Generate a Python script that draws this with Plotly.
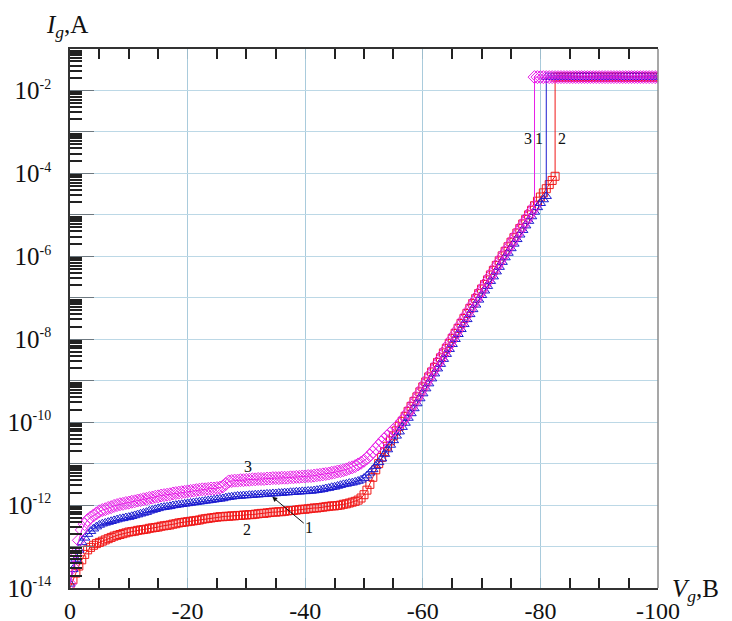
import plotly.graph_objects as go

# ---------------- data ----------------
# gate voltage sweep (V), 0.5 V steps
V_SWEEP = [0, -0.5, -1, -1.5, -2, -2.5, -3, -3.5, -4, -4.5, -5, -5.5, -6, -6.5, -7, -7.5, -8, -8.5, -9, -9.5,
           -10, -10.5, -11, -11.5, -12, -12.5, -13, -13.5, -14, -14.5, -15, -15.5, -16, -16.5, -17, -17.5, -18, -18.5, -19, -19.5,
           -20, -20.5, -21, -21.5, -22, -22.5, -23, -23.5, -24, -24.5, -25, -25.5, -26, -26.5, -27, -27.5, -28, -28.5, -29, -29.5,
           -30, -30.5, -31, -31.5, -32, -32.5, -33, -33.5, -34, -34.5, -35, -35.5, -36, -36.5, -37, -37.5, -38, -38.5, -39, -39.5,
           -40, -40.5, -41, -41.5, -42, -42.5, -43, -43.5, -44, -44.5, -45, -45.5, -46, -46.5, -47, -47.5, -48, -48.5, -49, -49.5,
           -50, -50.5, -51, -51.5, -52, -52.5, -53, -53.5, -54, -54.5, -55, -55.5, -56, -56.5, -57, -57.5, -58, -58.5, -59, -59.5,
           -60, -60.5, -61, -61.5, -62, -62.5, -63, -63.5, -64, -64.5, -65, -65.5, -66, -66.5, -67, -67.5, -68, -68.5, -69, -69.5,
           -70, -70.5, -71, -71.5, -72, -72.5, -73, -73.5, -74, -74.5, -75, -75.5, -76, -76.5, -77, -77.5, -78, -78.5, -79, -79.5,
           -80, -80.5, -81, -81.5, -82, -82.5]

# log10 of gate current (A) -- curve 1 (blue), 0 .. -81 V
LOG_I1 = [-13.9, -13.55, -13.3, -13.08, -12.9, -12.79, -12.7, -12.63, -12.57, -12.52,
          -12.48, -12.45, -12.43, -12.41, -12.39, -12.37, -12.35, -12.33, -12.32, -12.3,
          -12.29, -12.27, -12.25, -12.23, -12.21, -12.19, -12.17, -12.14, -12.12, -12.1,
          -12.08, -12.06, -12.05, -12.04, -12.03, -12.01, -12.0, -11.99, -11.98, -11.97,
          -11.96, -11.95, -11.94, -11.93, -11.92, -11.91, -11.9, -11.89, -11.88, -11.87,
          -11.86, -11.85, -11.84, -11.82, -11.81, -11.8, -11.79, -11.78, -11.78, -11.77,
          -11.77, -11.76, -11.76, -11.75, -11.75, -11.74, -11.74, -11.73, -11.73, -11.72,
          -11.72, -11.71, -11.71, -11.7, -11.7, -11.69, -11.69, -11.68, -11.68, -11.67,
          -11.67, -11.66, -11.66, -11.65, -11.64, -11.63, -11.62, -11.6, -11.59, -11.57,
          -11.56, -11.54, -11.52, -11.5, -11.49, -11.47, -11.46, -11.44, -11.42, -11.39,
          -11.35, -11.29, -11.22, -11.14, -11.06, -10.97, -10.88, -10.77, -10.66, -10.55,
          -10.44, -10.33, -10.23, -10.12, -10.02, -9.9, -9.79, -9.67, -9.55, -9.43,
          -9.31, -9.19, -9.07, -8.95, -8.83, -8.71, -8.6, -8.48, -8.36, -8.24,
          -8.12, -8.0, -7.88, -7.76, -7.64, -7.52, -7.4, -7.28, -7.17, -7.05,
          -6.94, -6.83, -6.72, -6.6, -6.49, -6.37, -6.26, -6.14, -6.03, -5.92,
          -5.81, -5.7, -5.59, -5.48, -5.37, -5.26, -5.15, -5.04, -4.93, -4.82,
          -4.72, -4.63, -4.55]

# curve 2 (red), 0 .. -82.5 V
LOG_I2 = [-14.0, -13.8, -13.64, -13.47, -13.32, -13.19, -13.08, -13.02, -12.97, -12.93,
          -12.9, -12.87, -12.84, -12.81, -12.78, -12.75, -12.73, -12.71, -12.69, -12.67,
          -12.65, -12.64, -12.63, -12.61, -12.6, -12.59, -12.58, -12.56, -12.55, -12.54,
          -12.53, -12.51, -12.5, -12.49, -12.48, -12.46, -12.45, -12.43, -12.42, -12.41,
          -12.4, -12.39, -12.38, -12.37, -12.36, -12.34, -12.33, -12.32, -12.31, -12.3,
          -12.29, -12.28, -12.28, -12.27, -12.27, -12.26, -12.26, -12.25, -12.25, -12.24,
          -12.24, -12.23, -12.23, -12.22, -12.21, -12.2, -12.2, -12.19, -12.18, -12.17,
          -12.17, -12.16, -12.16, -12.15, -12.14, -12.13, -12.13, -12.12, -12.11, -12.1,
          -12.1, -12.09, -12.08, -12.07, -12.07, -12.06, -12.05, -12.04, -12.03, -12.02,
          -12.02, -12.01, -12.0, -11.98, -11.97, -11.95, -11.93, -11.91, -11.88, -11.83,
          -11.75, -11.64, -11.5, -11.33, -11.15, -11.0, -10.85, -10.71, -10.58, -10.45,
          -10.33, -10.21, -10.1, -9.98, -9.86, -9.74, -9.62, -9.5, -9.39, -9.27,
          -9.15, -9.03, -8.91, -8.79, -8.68, -8.56, -8.45, -8.33, -8.22, -8.1,
          -7.98, -7.86, -7.74, -7.62, -7.5, -7.38, -7.26, -7.14, -7.02, -6.9,
          -6.79, -6.68, -6.57, -6.45, -6.34, -6.22, -6.11, -5.99, -5.88, -5.77,
          -5.66, -5.55, -5.44, -5.33, -5.22, -5.11, -5.0, -4.89, -4.78, -4.67,
          -4.57, -4.47, -4.37, -4.27, -4.17, -4.07]

# curve 3 (magenta), 0 .. -79 V
LOG_I3 = [-13.9, -13.5, -13.15, -12.85, -12.6, -12.46, -12.36, -12.3, -12.25, -12.2,
          -12.15, -12.12, -12.1, -12.07, -12.05, -12.02, -12.0, -11.98, -11.97, -11.95,
          -11.94, -11.92, -11.91, -11.89, -11.88, -11.86, -11.85, -11.83, -11.82, -11.8,
          -11.79, -11.77, -11.76, -11.75, -11.74, -11.72, -11.71, -11.7, -11.69, -11.68,
          -11.67, -11.66, -11.65, -11.64, -11.63, -11.62, -11.62, -11.61, -11.6, -11.6,
          -11.59, -11.58, -11.55, -11.49, -11.43, -11.42, -11.41, -11.41, -11.4, -11.4,
          -11.39, -11.39, -11.38, -11.38, -11.37, -11.37, -11.37, -11.36, -11.36, -11.35,
          -11.35, -11.35, -11.34, -11.34, -11.34, -11.33, -11.33, -11.32, -11.32, -11.31,
          -11.31, -11.3, -11.3, -11.29, -11.28, -11.27, -11.26, -11.25, -11.24, -11.22,
          -11.21, -11.19, -11.18, -11.16, -11.14, -11.11, -11.09, -11.06, -11.02, -10.98,
          -10.93, -10.87, -10.8, -10.72, -10.64, -10.56, -10.48, -10.4, -10.33, -10.26,
          -10.19, -10.12, -10.05, -9.97, -9.88, -9.77, -9.66, -9.54, -9.42, -9.3,
          -9.18, -9.06, -8.94, -8.82, -8.71, -8.59, -8.48, -8.36, -8.24, -8.12,
          -8.0, -7.88, -7.76, -7.64, -7.52, -7.4, -7.28, -7.16, -7.05, -6.93,
          -6.82, -6.71, -6.6, -6.48, -6.37, -6.25, -6.14, -6.02, -5.91, -5.8,
          -5.69, -5.58, -5.47, -5.36, -5.25, -5.14, -5.03, -4.91, -4.8]

# current-compliance plateau after breakdown (V, 0.5 V steps)
V_COMP = [-79, -79.5, -80, -80.5, -81, -81.5, -82, -82.5, -83, -83.5, -84, -84.5, -85, -85.5,
          -86, -86.5, -87, -87.5, -88, -88.5, -89, -89.5, -90, -90.5, -91, -91.5, -92, -92.5,
          -93, -93.5, -94, -94.5, -95, -95.5, -96, -96.5, -97, -97.5, -98, -98.5, -99, -99.5, -100]
I_COMPLIANCE = 0.021  # A

X_TICKS = [0, -20, -40, -60, -80, -100]
X_TICK_TEXT = ["0", "-20", "-40", "-60", "-80", "-100"]
X_SMALL_TICKS = [-5, -10, -15, -25, -30, -35, -45, -50, -55, -65, -70, -75, -85, -90, -95]
Y_DECADES = [-14, -13, -12, -11, -10, -9, -8, -7, -6, -5, -4, -3, -2, -1]
Y_LABELLED = [-14, -12, -10, -8, -6, -4, -2]

# ---------------- figure ----------------
SERIF = "Liberation Serif, Times New Roman, serif"


def build(log_vals, color, symbol, size, name):
    n = len(log_vals)
    v = V_SWEEP[:n]
    end_v = v[-1]
    vc = V_COMP[V_COMP.index(end_v):]
    x = v + vc
    y = [10 ** p for p in log_vals] + [I_COMPLIANCE] * len(vc)
    return go.Scatter(
        x=x, y=y, mode="lines+markers", name=name,
        line=dict(color=color, width=1),
        marker=dict(symbol=symbol, size=size, color=color, line=dict(color=color, width=1)),
        showlegend=False,
    )


fig = go.Figure()
fig.add_trace(build(LOG_I2, "#f01818", "square-open", 8, "2"))
fig.add_trace(build(LOG_I1, "#1c1cd0", "triangle-up-open", 9, "1"))
fig.add_trace(build(LOG_I3, "#e81ee8", "diamond-open", 10, "3"))

minor_y = [d * 10.0 ** e for e in Y_DECADES[:-1] for d in range(2, 10)]


def ylab(e):
    return "10<sup><span style='font-size:14px'>%d</span></sup>" % e


# the page body has an 8 px margin, so the figure is shifted; compensate in size/margins
fig.update_layout(
    width=724, height=613,
    margin=dict(l=62, r=74, t=41, b=33),
    paper_bgcolor="white", plot_bgcolor="white",
    font=dict(family=SERIF, color="#111"),
    xaxis=dict(
        range=[0, -100], tickmode="array", tickvals=X_TICKS, ticktext=X_TICK_TEXT,
        ticks="inside", ticklen=10, tickwidth=1, tickcolor="#9cbccc",
        showline=True, linecolor="#333", linewidth=1.5, mirror="ticks",
        showgrid=True, gridcolor="#a9cbdc", gridwidth=1, zeroline=False,
        automargin=False, ticklabelstandoff=0,
        tickfont=dict(family=SERIF, size=24, color="#111"),
        minor=dict(tickmode="array", tickvals=X_SMALL_TICKS, ticks="inside", ticklen=10,
                   tickwidth=2, tickcolor="#222", showgrid=False),
    ),
    yaxis=dict(
        type="log", range=[-14, -1], tickmode="array",
        tickvals=[10.0 ** e for e in Y_DECADES],
        ticktext=[ylab(e) if e in Y_LABELLED else "" for e in Y_DECADES],
        ticks="inside", ticklen=24, tickwidth=1, tickcolor="#6c7880",
        showline=True, linecolor="#333", linewidth=1.5, mirror=False,
        showgrid=True, gridcolor="#bcd8e6", gridwidth=1, zeroline=False,
        automargin=False, ticklabelstandoff=12,
        tickfont=dict(family=SERIF, size=25, color="#111"),
        minor=dict(tickmode="array", tickvals=minor_y, ticks="inside", ticklen=12,
                   tickwidth=2, tickcolor="#222", showgrid=False),
    ),
)

# right frame line (grey, no ticks)
fig.add_shape(type="line", xref="paper", yref="paper", x0=1, x1=1, y0=0, y1=1,
              line=dict(color="#8a8a8a", width=1.5))

# axis titles
fig.add_annotation(xref="paper", yref="paper", x=-0.005, y=1.042, xanchor="center", yanchor="middle",
                   showarrow=False, text="<i>I</i><sub><i>g</i></sub>,A",
                   font=dict(family=SERIF, size=25, color="#111"))
fig.add_annotation(xref="paper", yref="paper", x=1.063, y=-0.004, xanchor="center", yanchor="middle",
                   showarrow=False, text="<i>V</i><sub><i>g</i></sub>,B",
                   font=dict(family=SERIF, size=25, color="#111"))

# curve labels
lab_font = dict(family=SERIF, size=16, color="#111")
for txt, xv, yl in [("3", -77.9, -3.15), ("1", -79.8, -3.15), ("2", -83.7, -3.15),
                    ("3", -30.3, -11.08), ("2", -30.1, -12.6)]:
    fig.add_annotation(x=xv, y=yl, text=txt, showarrow=False, font=lab_font)
fig.add_annotation(x=-34.4, y=-11.8, text="1", showarrow=True, ax=37, ay=31,
                   arrowhead=2, arrowsize=1, arrowwidth=1, arrowcolor="#111", font=lab_font)

fig.write_html("out.html")
